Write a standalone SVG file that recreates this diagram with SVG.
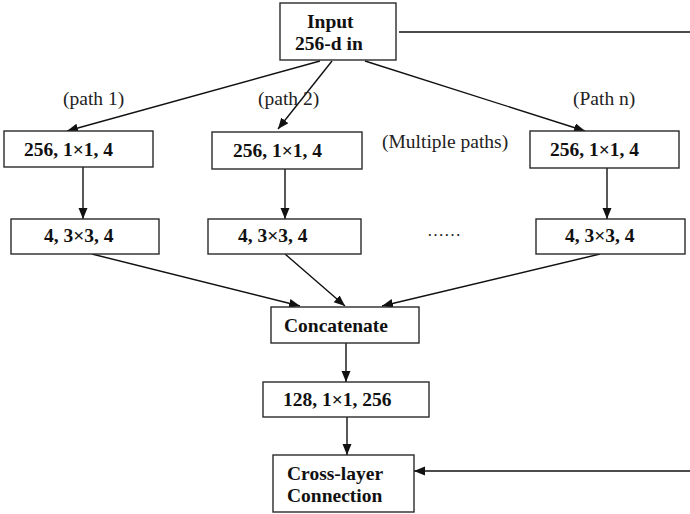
<svg xmlns="http://www.w3.org/2000/svg" width="690" height="514" viewBox="0 0 690 514">
  <style>
    .box { fill: #ffffff; stroke: #2a2a2a; stroke-width: 1.4; }
    .lbl { font-family: "Liberation Serif", "Times New Roman", serif; font-size: 19.5px; font-weight: bold; fill: #111111; }
    .note { font-family: "Liberation Serif", "Times New Roman", serif; font-size: 19.5px; fill: #222222; }
    .wire { stroke: #111111; stroke-width: 1.4; fill: none; }
    .arrow { stroke: #111111; stroke-width: 1.4; fill: none; marker-end: url(#head); }
  </style>
  <defs>
    <marker id="head" markerUnits="userSpaceOnUse" markerWidth="12" markerHeight="10" refX="11" refY="4.5" orient="auto">
      <path d="M0,0 L11,4.5 L0,9 z" fill="#111111"/>
    </marker>
  </defs>
  <rect width="690" height="514" fill="#ffffff"/>

  <!-- connectors -->
  <g id="connectors">
    <line class="wire" x1="399" y1="32" x2="690" y2="32"/>
    <line class="arrow" x1="320" y1="61" x2="67" y2="131"/>
    <line class="arrow" x1="332" y1="61" x2="278" y2="129"/>
    <line class="arrow" x1="365" y1="61" x2="585" y2="131"/>
    <line class="arrow" x1="83" y1="167" x2="83" y2="219"/>
    <line class="arrow" x1="285" y1="169" x2="285" y2="219"/>
    <line class="arrow" x1="607" y1="168" x2="607" y2="219"/>
    <line class="arrow" x1="92" y1="254" x2="300" y2="306"/>
    <line class="arrow" x1="285" y1="254" x2="345" y2="306"/>
    <line class="arrow" x1="600" y1="254" x2="382" y2="306"/>
    <line class="arrow" x1="346" y1="343" x2="346" y2="382"/>
    <line class="arrow" x1="347" y1="417" x2="347" y2="455"/>
    <line class="arrow" x1="690" y1="471" x2="414" y2="471"/>
  </g>

  <!-- path annotations -->
  <text class="note" x="63" y="105">(path 1)</text>
  <text class="note" x="258" y="105">(path 2)</text>
  <text class="note" x="573" y="105">(Path n)</text>
  <text class="note" x="382" y="148">(Multiple paths)</text>
  <text class="note" x="427" y="236" style="font-size:17px">……</text>

  <g id="input">
    <rect class="box" x="280" y="3" width="116" height="57"/>
    <text class="lbl" x="307" y="28">Input</text>
    <text class="lbl" x="295" y="50">256-d in</text>
  </g>

  <g id="p1-reduce">
    <rect class="box" x="4" y="131" width="149" height="36"/>
    <text class="lbl" x="24" y="156">256, 1×1, 4</text>
  </g>
  <g id="p2-reduce">
    <rect class="box" x="212" y="132" width="150" height="37"/>
    <text class="lbl" x="233" y="157">256, 1×1, 4</text>
  </g>
  <g id="pn-reduce">
    <rect class="box" x="530" y="131" width="149" height="37"/>
    <text class="lbl" x="550" y="156">256, 1×1, 4</text>
  </g>

  <g id="p1-conv">
    <rect class="box" x="11" y="219" width="148" height="35"/>
    <text class="lbl" x="44" y="242">4, 3×3, 4</text>
  </g>
  <g id="p2-conv">
    <rect class="box" x="208" y="219" width="153" height="35"/>
    <text class="lbl" x="238" y="242">4, 3×3, 4</text>
  </g>
  <g id="pn-conv">
    <rect class="box" x="536" y="219" width="149" height="35"/>
    <text class="lbl" x="565" y="242">4, 3×3, 4</text>
  </g>

  <g id="concat">
    <rect class="box" x="271" y="307" width="148" height="36"/>
    <text class="lbl" x="284" y="332">Concatenate</text>
  </g>

  <g id="expand">
    <rect class="box" x="263" y="382" width="166" height="35"/>
    <text class="lbl" x="283" y="406">128, 1×1, 256</text>
  </g>

  <g id="cross-layer">
    <rect class="box" x="273" y="455" width="141" height="57"/>
    <text class="lbl" x="287" y="480">Cross-layer</text>
    <text class="lbl" x="287" y="502">Connection</text>
  </g>
</svg>
